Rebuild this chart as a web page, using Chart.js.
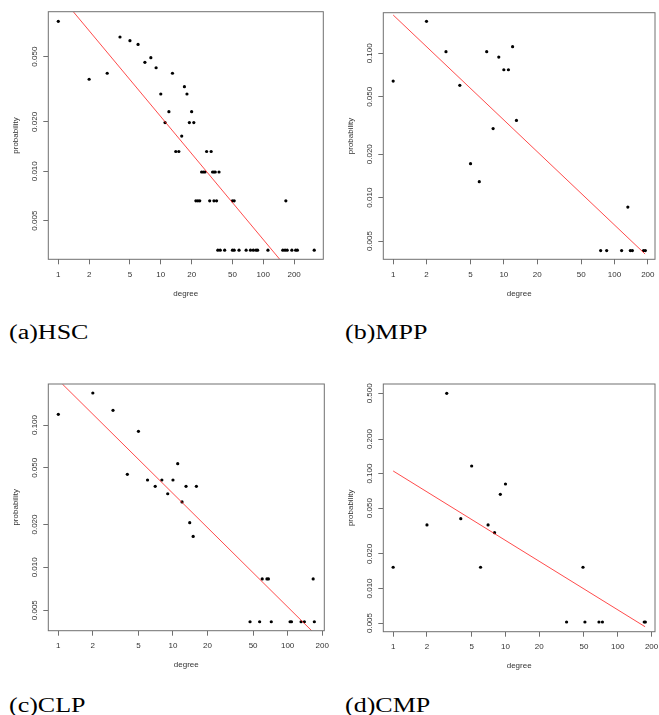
<!DOCTYPE html>
<html>
<head>
<meta charset="utf-8">
<script src="https://cdn.jsdelivr.net/npm/chart.js@4.4.1/dist/chart.umd.min.js"></script>
<style>
html,body{margin:0;padding:0;background:#fff;}
body{width:659px;height:715px;position:relative;overflow:hidden;}
canvas{position:absolute;}
.cap{position:absolute;font-family:"Liberation Serif","Times New Roman",serif;font-size:20px;line-height:1;color:#000;white-space:nowrap;transform-origin:0 0;transform:scaleX(1.3);}
</style>
</head>
<body>
<canvas id="c0"></canvas>
<canvas id="c1"></canvas>
<canvas id="c2"></canvas>
<canvas id="c3"></canvas>
<div class="cap" id="cap0">(a)HSC</div>
<div class="cap" id="cap1">(b)MPP</div>
<div class="cap" id="cap2">(c)CLP</div>
<div class="cap" id="cap3">(d)CMP</div>
<script>
// ---------- data ----------
const xTicks = [1, 2, 5, 10, 20, 50, 100, 200];
const xTickLabels = ['1', '2', '5', '10', '20', '50', '100', '200'];

const yTicksSmall = [0.005, 0.01, 0.02, 0.05];
const yTickLabelsSmall = ['0.005', '0.010', '0.020', '0.050'];
const yTicksMid = [0.005, 0.01, 0.02, 0.05, 0.1];
const yTickLabelsMid = ['0.005', '0.010', '0.020', '0.050', '0.100'];
const yTicksWide = [0.005, 0.01, 0.02, 0.05, 0.1, 0.2, 0.5];
const yTickLabelsWide = ['0.005', '0.010', '0.020', '0.050', '0.100', '0.200', '0.500'];

// (a) HSC
const hscDegree = [1, 2, 3, 4, 5, 6, 7, 8, 9, 10, 11, 12, 13, 14, 15, 16, 17, 18, 19, 20, 21,
  22, 23, 24, 25, 26, 27, 28, 30, 31, 32, 33, 34, 33, 35, 37, 50, 52, 166,
  36, 38, 42, 50, 52, 58, 68, 75, 80, 85, 88, 111, 155, 163, 171, 190, 207, 215, 314];
const hscProb = [0.0821, 0.0364, 0.0396, 0.0659, 0.0626, 0.0594, 0.0462, 0.0493, 0.0428, 0.0296, 0.0198, 0.0231, 0.0396, 0.0132, 0.0132, 0.0164, 0.0328, 0.0296, 0.0198, 0.0231, 0.0198,
  0.0066, 0.0066, 0.0066, 0.0099, 0.0099, 0.0099, 0.0132, 0.0066, 0.0132, 0.0099, 0.0099, 0.0099, 0.0066, 0.0066, 0.0099, 0.0066, 0.0066, 0.0066,
  0.0033, 0.0033, 0.0033, 0.0033, 0.0033, 0.0033, 0.0033, 0.0033, 0.0033, 0.0033, 0.0033, 0.0033, 0.0033, 0.0033, 0.0033, 0.0033, 0.0033, 0.0033, 0.0033];
const hscFitDegree = [1.40, 145];
const hscFitProb = [0.0940, 0.00290];

// (b) MPP
const mppDegree = [1, 2, 3, 4, 5, 6, 7, 8, 9, 10, 11, 12, 13, 75, 85, 116, 132, 139, 145, 183, 190];
const mppProb = [0.0643, 0.1667, 0.1027, 0.0600, 0.0172, 0.0129, 0.1027, 0.0301, 0.0943, 0.0770, 0.0770, 0.1112, 0.0343,
  0.0043, 0.0043, 0.0043, 0.0086, 0.0043, 0.0043, 0.0043, 0.0043];
const mppFitDegree = [1, 189];
const mppFitProb = [0.1843, 0.00407];

// (c) CLP
const clpDegree = [1, 2, 3, 4, 5, 6, 7, 8, 9, 10, 11, 12, 13, 14, 15, 16,
  47, 57, 60, 66, 68, 72, 105, 108, 131, 140, 167, 171];
const clpProb = [0.1189, 0.1678, 0.1268, 0.0450, 0.0903, 0.0411, 0.0371, 0.0411, 0.0329, 0.0411, 0.0535, 0.0288, 0.0371, 0.0206, 0.0165, 0.0371,
  0.00415, 0.00415, 0.0083, 0.0083, 0.0083, 0.00415, 0.00415, 0.00415, 0.00415, 0.00415, 0.0083, 0.00415];
const clpFitDegree = [1.084, 162];
const clpFitProb = [0.1941, 0.00359];

// (d) CMP
const cmpDegree = [1, 2, 3, 4, 5, 6, 7, 8, 9, 10, 35, 49, 51, 68, 73, 172, 176];
const cmpProb = [0.0153, 0.0357, 0.5, 0.0405, 0.1165, 0.0153, 0.0357, 0.0306, 0.066, 0.0812,
  0.0051, 0.0153, 0.0051, 0.0051, 0.0051, 0.0051, 0.0051];
const cmpFitDegree = [1, 175];
const cmpFitProb = [0.1054, 0.00464];

const captions = ['(a)HSC', '(b)MPP', '(c)CLP', '(d)CMP'];

// ---------- layout / style ----------
const FONT = "'Liberation Sans', Arial, Helvetica, sans-serif";
const TICK_SIZE = 8;
const TITLE_SIZE = 8;
const LH = 1.2;
const TICK_LEN = 5;
const BOX_COLOR = '#707070';
const TEXT_COLOR = '#333';
const FIT_COLOR = 'rgba(255,30,30,0.8)';
const Y_LABEL_OFF = 13.3;   // box-left to y tick label centre
const X_LABEL_OFF = 15;     // box-bottom to x tick label centre
const X_TITLE_OFF = 34.5;   // box-bottom to "degree" centre
const Y_TITLE_OFF = 32.5;   // box-left to "probability" centre

const panels = [
  { id: 'c0', left: 0,   top: 0,   w: 330, h: 312, area: [48.3, 11.7, 323.3, 259.3],
    xs: hscDegree, ys: hscProb, fx: hscFitDegree, fy: hscFitProb,
    xr: [0.799, 385], yr: [0.002905, 0.0940], yt: yTicksSmall, ytl: yTickLabelsSmall },
  { id: 'c1', left: 330, top: 0,   w: 329, h: 312, area: [53.3, 12.7, 328.3, 259.3],
    xs: mppDegree, ys: mppProb, fx: mppFitDegree, fy: mppFitProb,
    xr: [0.814, 232.3], yr: [0.00374, 0.1913], yt: yTicksMid, ytl: yTickLabelsMid },
  { id: 'c2', left: 0,   top: 360, w: 330, h: 312, area: [48.3, 24, 324.3, 270.7],
    xs: clpDegree, ys: clpProb, fx: clpFitDegree, fy: clpFitProb,
    xr: [0.818, 208.8], yr: [0.00359, 0.1941], yt: yTicksMid, ytl: yTickLabelsMid },
  { id: 'c3', left: 330, top: 360, w: 329, h: 312, area: [53.3, 24, 328.3, 271.7],
    xs: cmpDegree, ys: cmpProb, fx: cmpFitDegree, fy: cmpFitProb,
    xr: [0.817, 214.5], yr: [0.0042, 0.603], yt: yTicksWide, ytl: yTickLabelsWide }
];
const capPos = [[9.3, 322.3], [345, 322.3], [9.3, 695], [345, 695]];

const mctx = document.createElement('canvas').getContext('2d');
mctx.font = TICK_SIZE + 'px ' + FONT;

const boxPlugin = {
  id: 'rbox',
  afterDatasetsDraw(chart) {
    const { ctx, chartArea: a } = chart;
    ctx.save();
    ctx.strokeStyle = BOX_COLOR;
    ctx.lineWidth = 1;
    ctx.strokeRect(a.left, a.top, a.right - a.left, a.bottom - a.top);
    ctx.restore();
  }
};

function labelFor(vals, labels) {
  return (v) => {
    for (let i = 0; i < vals.length; i++) {
      if (Math.abs(vals[i] - v) / vals[i] < 1e-6) return labels[i];
    }
    return '';
  };
}

panels.forEach((p, idx) => {
  const cv = document.getElementById(p.id);
  cv.width = p.w; cv.height = p.h;
  cv.style.left = p.left + 'px'; cv.style.top = p.top + 'px';
  const [L, T, R, B] = p.area;
  const widest = Math.max(...p.ytl.map(s => mctx.measureText(s).width));
  const tickLH = TICK_SIZE * LH;
  const titleLH = TITLE_SIZE * LH;

  new Chart(cv, {
    type: 'scatter',
    data: {
      datasets: [
        {
          type: 'scatter',
          data: p.xs.map((x, i) => ({ x: x, y: p.ys[i] })),
          pointRadius: 1.6,
          pointBackgroundColor: '#000',
          pointBorderColor: '#000',
          pointBorderWidth: 0,
          order: 1
        },
        {
          type: 'line',
          data: p.fx.map((x, i) => ({ x: x, y: p.fy[i] })),
          borderColor: FIT_COLOR,
          borderWidth: 1,
          pointRadius: 0,
          fill: false,
          tension: 0,
          order: 0
        }
      ]
    },
    options: {
      responsive: false,
      animation: false,
      devicePixelRatio: 1,
      events: [],
      layout: { padding: { left: 0, top: T, right: p.w - R, bottom: 0 } },
      plugins: { legend: { display: false }, tooltip: { enabled: false } },
      scales: {
        x: {
          type: 'logarithmic',
          position: 'bottom',
          min: p.xr[0], max: p.xr[1],
          afterBuildTicks: s => { s.ticks = xTicks.map(v => ({ value: v })); },
          afterFit: s => { s.height = p.h - B; s.paddingLeft = 0; s.paddingRight = 0; },
          grid: { display: true, drawOnChartArea: false, drawTicks: true, tickLength: TICK_LEN, color: BOX_COLOR, lineWidth: 1 },
          border: { display: false },
          ticks: {
            autoSkip: false, minRotation: 0, maxRotation: 0,
            padding: X_LABEL_OFF - TICK_LEN - tickLH / 2,
            color: TEXT_COLOR, font: { family: FONT, size: TICK_SIZE },
            callback: labelFor(xTicks, xTickLabels)
          },
          title: {
            display: true, text: 'degree', color: TEXT_COLOR,
            font: { family: FONT, size: TITLE_SIZE },
            padding: { top: 0, bottom: p.h - B - X_TITLE_OFF - titleLH / 2 }
          }
        },
        y: {
          type: 'logarithmic',
          position: 'left',
          min: p.yr[0], max: p.yr[1],
          afterBuildTicks: s => { s.ticks = p.yt.map(v => ({ value: v })); },
          afterFit: s => { s.width = L; s.paddingTop = 0; s.paddingBottom = 0; },
          grid: { display: true, drawOnChartArea: false, drawTicks: true, tickLength: TICK_LEN, color: BOX_COLOR, lineWidth: 1 },
          border: { display: false },
          ticks: {
            autoSkip: false, minRotation: 90, maxRotation: 90, crossAlign: 'center',
            padding: Y_LABEL_OFF - TICK_LEN - widest / 2,
            color: TEXT_COLOR, font: { family: FONT, size: TICK_SIZE },
            callback: labelFor(p.yt, p.ytl)
          },
          title: {
            display: true, text: 'probability', color: TEXT_COLOR,
            font: { family: FONT, size: TITLE_SIZE },
            padding: { top: (L - Y_TITLE_OFF) - titleLH / 2, bottom: 0 }
          }
        }
      }
    },
    plugins: [boxPlugin]
  });

  const cap = document.getElementById('cap' + idx);
  cap.textContent = captions[idx];
  cap.style.left = capPos[idx][0] + 'px';
  cap.style.top = capPos[idx][1] + 'px';
});
</script>
</body>
</html>
